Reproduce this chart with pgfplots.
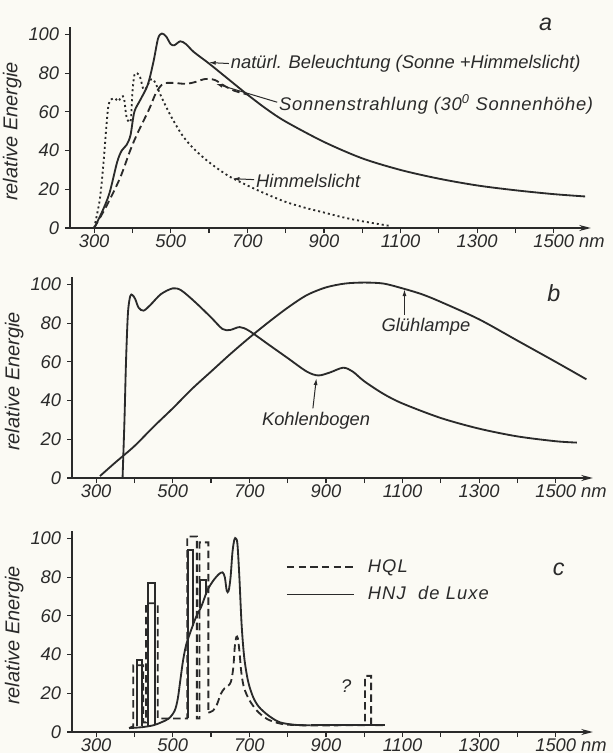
\documentclass[border=0pt]{standalone}
\usepackage{fontspec}
\setmainfont{Liberation Sans}
\usepackage{pgfplots}
\pgfplotsset{compat=1.18}
\usetikzlibrary{arrows.meta}

\definecolor{ink}{HTML}{2A2A2A}
\definecolor{paper}{HTML}{FBFAF4}

\newcommand{\lbl}{\fontsize{11}{13}\selectfont\itshape}

\tikzset{
  curve/.style={ink, line width=1.1pt, smooth, tension=0.5},
  dashcurve/.style={ink, line width=1.1pt, dash pattern=on 4.5pt off 2.5pt},
  dotcurve/.style={ink, line width=1.1pt, dash pattern=on 1.2pt off 1.8pt},
  lead/.style={ink, line width=0.6pt, {Latex[length=4pt,width=2.4pt]}-},
}

\pgfplotsset{
  panel/.style={
    anchor=south west,
    x=0.2298pt, y=1.161pt,
    xmin=237, xmax=1597, ymin=0, ymax=104,
    axis x line*=bottom, axis y line*=left,
    axis line style={ink, line width=0.8pt},
    x axis line style={-{Stealth[length=7pt,width=3.6pt]}},
    xtick={300,500,...,1500}, minor xtick={400,600,...,1400},
    xticklabels={300,500,700,900,1100,1300,1500\rlap{ nm}},
    ytick={0,20,...,100},
    tick align=outside, major tick length=3pt, minor tick length=3pt,
    every tick/.style={ink, line width=0.7pt},
    tick label style={font=\lbl, text=ink},
    xticklabel style={yshift=2.5pt},
    /pgf/number format/assume math mode=true,
    ylabel={relative Energie},
    ylabel style={font=\fontsize{12}{14}\selectfont\itshape, text=ink,
      at={(axis description cs:-0.111,0.48)}, anchor=center},
    clip=false,
  },
}

\begin{document}
\begin{tikzpicture}
\path[use as bounding box, fill=paper] (0pt,0pt) rectangle (367.8pt,-451.8pt);

% ---------------- a ----------------
\begin{axis}[panel, at={(42pt,-136.8pt)}]
\addplot[curve] coordinates {(300,0)(320,8)(340,18)(360,34)(372,40)(385,43)(395,48)(405,60)(420,66)(440,74)(455,86)(467,98)(477,100.5)(488,99)(500,95)(510,94.5)(525,96.5)(540,95)(560,91)(600,85)(650,77)(700,69)(750,61.5)(800,55)(900,44.5)(1000,36)(1100,30)(1200,25.5)(1300,22)(1400,19.5)(1500,17.5)(1582,16.3)};
\addplot[dashcurve, smooth, tension=0.5] coordinates {(300,0)(334,12)(368,26)(394,40)(411,48)(428,55)(445,62)(462,70)(480,74.5)(505,75)(540,74.5)(565,75.5)(590,77)(615,76.5)(640,73.5)(665,71)(700,69)};
\addplot[dotcurve, smooth, tension=0.5] coordinates {(300,0)(315,15)(325,35)(333,55)(338,64)(345,66.5)(355,67)(363,65.5)(372,68)(378,67)(384,58)(390,55)(396,56)(400,70)(405,79)(412,80)(420,78)(428,72)(435,72)(445,76)(452,77)(460,75)(475,68)(500,58)(530,48)(560,41)(600,34)(650,27)(700,22)(750,17.5)(800,13.5)(850,10.5)(900,8)(950,5.5)(1000,3.5)(1050,1.8)(1075,1)};
\draw[lead] (axis cs:600,85.5) -- (axis cs:652,85);
\node[anchor=west, font=\lbl, text=ink, inner sep=1pt] at (axis cs:652,85) {natürl. Beleuchtung (Sonne +Himmelslicht)};
\draw[lead] (axis cs:618,74.5) -- (axis cs:778,65);
\node[anchor=west, font=\lbl\addfontfeature{LetterSpace=4}, text=ink, inner sep=1pt] at (axis cs:778,64) {Sonnenstrahlung (30\textsuperscript{0} Sonnenhöhe)};
\draw[lead] (axis cs:662,25.5) -- (axis cs:718,25);
\node[anchor=west, font=\lbl, text=ink, inner sep=1pt] at (axis cs:718,24.5) {Himmelslicht};
\node[font=\fontsize{14}{16}\selectfont\itshape, text=ink] at (axis cs:1479,105) {a};
\end{axis}

% ---------------- b ----------------
\begin{axis}[panel, at={(43.2pt,-286.8pt)}]
\addplot[curve] coordinates {(310,1)(350,8)(400,16.5)(450,26.5)(500,36)(550,46)(600,55)(650,64)(700,72.5)(750,80.5)(800,88)(850,94.5)(900,98.5)(950,100.5)(1000,101)(1050,100.5)(1100,98)(1150,95)(1200,91)(1300,82)(1400,71)(1500,60)(1580,51)};
\addplot[curve] coordinates {(369,0)(374,30)(378,60)(383,85)(389,94)(395,94.5)(402,92.5)(411,88)(424,86.5)(442,89.5)(469,95)(500,98)(522,97)(558,91)(600,83)(630,77)(650,76.5)(675,78)(700,76)(750,69)(800,62)(850,55)(880,53)(910,54.5)(945,57)(970,55)(1000,50)(1050,43.5)(1100,38.5)(1200,31)(1300,25.5)(1400,21.5)(1500,19)(1555,18.3)};
\draw[lead] (axis cs:1105,97.5) -- (axis cs:1105,84);
\node[anchor=west, font=\lbl, text=ink, inner sep=1pt] at (axis cs:1040,78) {Glühlampe};
\draw[lead] (axis cs:875,51.5) -- (axis cs:866,36);
\node[anchor=west, font=\lbl, text=ink, inner sep=1pt] at (axis cs:728,29.5) {Kohlenbogen};
\node[font=\fontsize{14}{16}\selectfont\itshape, text=ink] at (axis cs:1495,95.5) {b};
\end{axis}

% ---------------- c ----------------
\begin{axis}[panel, at={(43.2pt,-439.2pt)},
  legend style={at={(axis cs:795,91)}, anchor=north west, draw=none, fill=none,
    font=\lbl\addfontfeature{LetterSpace=6}, text=ink, row sep=3pt, column sep=6pt, inner sep=0pt},
  legend cell align=left,
  legend image code/.code={\draw[#1] (0pt,0pt) -- (40pt,0pt);}]
\addlegendimage{dashcurve}
\addlegendentry{HQL}
\addlegendimage{ink, line width=1.1pt}
\addlegendentry{HNJ\ \ de Luxe}
% HQL (dashed): line spectrum and continuum
\addplot[dashcurve, forget plot] coordinates {(386,2)(397,3)(397,34.5)(423,34.5)(423,5)(430,5)(430,66.5)(461,66.5)(461,7)(538,7)(538,101)(563,101)(563,7)(570,7)(570,98)(593,98)(593,10)};
\addplot[dashcurve, smooth, tension=0.5, forget plot] coordinates {(593,10)(605,11)(615,14)(625,19.5)(635,22.5)(645,24)(652,26)(658,33)(662,44)(666,49)(670,48.5)(674,42)(679,31)(686,23)(700,16.5)(720,11)(740,7.5)(760,5.5)(790,4)(830,3.5)(860,3.4)};
\addplot[dashcurve, forget plot] coordinates {(860,3.4)(1002,3.5)(1002,29)(1018,29)(1018,3.5)(1053,3.5)};
% HNJ de Luxe (solid): lines and continuum
\addplot[ink, line width=1.1pt, forget plot] coordinates {(406,3)(406,37)(419,37)(419,3)};
\addplot[ink, line width=1.1pt, forget plot] coordinates {(436,3)(436,77)(453,77)(453,4)};
\addplot[ink, line width=1.1pt, forget plot] coordinates {(540,7)(540,94)(553,94)(553,55)};
\addplot[ink, line width=1.1pt, forget plot] coordinates {(572,64)(572,78.5)(587,78.5)(587,71)};
\addplot[curve, forget plot] coordinates {(386,2)(420,2.5)(450,3.5)(470,5)(490,7)(505,11)(513,17)(520,27)(527,37)(535,45)(545,51)(560,59)(575,65)(590,73)(605,78)(620,81.5)(630,82.5)(636,80)(641,73)(646,73)(651,80)(656,93)(661,99.5)(665,100)(669,97)(674,80)(680,55)(687,38)(697,26)(710,18)(725,13)(750,8.5)(780,5)(820,3.7)(860,3.5)};
\addplot[ink, line width=1.1pt, forget plot] coordinates {(860,3.5)(1053,3.5)};
\node[font=\lbl, text=ink] at (axis cs:953,23.5) {?};
\node[font=\fontsize{14}{16}\selectfont\itshape, text=ink] at (axis cs:1508,84) {c};
\end{axis}
\end{tikzpicture}
\end{document}
